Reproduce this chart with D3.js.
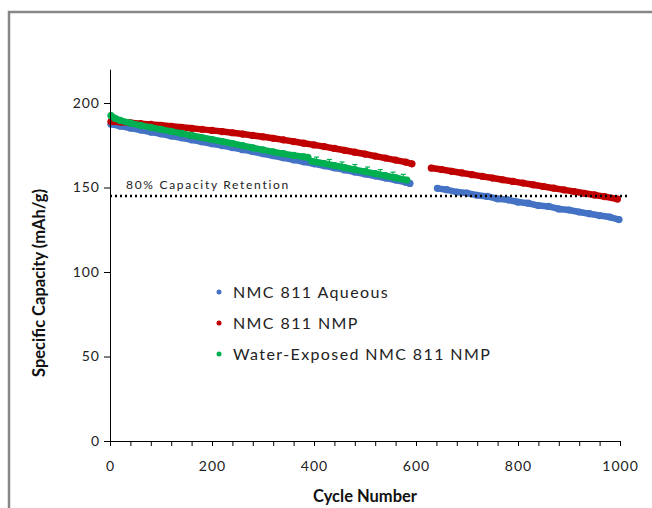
<!DOCTYPE html>
<html>
<head>
<meta charset="utf-8">
<script src="https://d3js.org/d3.v7.min.js"></script>
<style>
  body { margin: 0; background: #fff; }
  text { font-family: Lato, "Open Sans", sans-serif; }
</style>
</head>
<body>
<div id="chart"></div>
<script>
// series values (cycle, mAh/g)
var aqueous1 = [[2,187.5],[20,186.3],[40,185.1],[60,184],[80,182.8],[100,181.7],[120,180.5],[140,179.4],[160,178.2],[180,177.1],[200,175.9],[220,174.8],[240,173.6],[260,172.4],[280,171.2],[300,170],[320,168.8],[340,167.6],[360,166.4],[380,165.2],[400,164],[420,162.8],[440,161.6],[460,160.4],[480,159.2],[500,158],[520,156.8],[540,155.6],[560,154.4],[580,153.1],[588,152.4]];
var aqueous2 = [[642,149.5],[660,148.7],[680,147.3],[700,146.7],[720,145.4],[740,144.7],[760,143.3],[780,142.7],[800,141.4],[820,140.7],[840,139.3],[860,138.8],[880,137.3],[900,136.7],[920,135.5],[940,134.5],[960,133.4],[980,132.5],[998,131]];
var nmp1 = [[2,189],[20,188.8],[40,188.3],[60,187.8],[80,187.3],[100,186.8],[120,186.2],[140,185.6],[160,185],[180,184.4],[200,183.8],[220,183.1],[240,182.4],[260,181.6],[280,180.8],[300,180],[320,179.1],[340,178.2],[360,177.2],[380,176.2],[400,175.2],[420,174.2],[440,173.1],[460,172],[480,170.9],[500,169.8],[520,168.6],[540,167.4],[560,166.2],[580,165],[592,164]];
var nmp2 = [[630,161.5],[650,160.6],[670,159.6],[690,158.6],[710,157.6],[730,156.6],[750,155.6],[770,154.6],[790,153.6],[810,152.6],[830,151.6],[850,150.6],[870,149.6],[890,148.6],[910,147.6],[930,146.6],[950,145.6],[970,144.6],[995,143.2]];
var exposed1 = [[2,192.5],[10,190.9],[20,189.7],[40,188.1],[60,186.8],[80,185.6],[100,184.4],[120,183.2],[140,182],[160,180.8],[180,179.6],[200,178.4],[220,177.2],[240,176],[260,174.8],[280,173.5],[300,172.3],[320,171.1],[340,170],[360,169],[380,168.2],[388,167.8]];
var exposed2 = [[396,165.5],[420,164.2],[440,163],[460,161.8],[480,160.6],[500,159.4],[520,158.2],[540,157],[560,155.8],[582,154.4]];
var exposedErr = [[405,165],[430,163.6],[455,162.1],[480,160.6],[505,159.1],[530,157.6],[555,156.1],[575,154.8]];
var errSize = 3;
var retention = 145;
var yTicks = [0, 50, 100, 150, 200];
var xLabels = [0, 200, 400, 600, 800, 1000];
var seriesNames = ["NMC 811 Aqueous", "NMC 811 NMP", "Water-Exposed NMC 811 NMP"];
var seriesColors = ["#4472C4", "#C00000", "#00B050"];

var W = 652, H = 508;
var svg = d3.select("#chart").append("svg").attr("width", W).attr("height", H);

// outer frame
svg.append("rect").attr("x", 9).attr("y", 12).attr("width", 700).attr("height", 600)
  .attr("fill", "none").attr("stroke", "#878787").attr("stroke-width", 2.5);

var x = d3.scaleLinear().domain([0, 1000]).range([110, 620]);
var y = d3.scaleLinear().domain([0, 220]).range([441, 69.2]);

var line = d3.line().x(d => x(d[0])).y(d => y(d[1]));

// data bands
var segs = [[aqueous1, 0], [aqueous2, 0], [nmp1, 1], [nmp2, 1], [exposed1, 2], [exposed2, 2]];
segs.forEach(function(s) {
  var c = seriesColors[s[1]];
  svg.append("path").datum(s[0]).attr("d", line)
    .attr("fill", "none").attr("stroke", c).attr("stroke-width", 6.5)
    .attr("stroke-linecap", "round").attr("stroke-linejoin", "round");
  svg.selectAll(null).data(s[0]).enter().append("circle")
    .attr("cx", d => x(d[0])).attr("cy", d => y(d[1])).attr("r", 3.6).attr("fill", c);
});

// error bars on water-exposed
var eb = svg.append("g").attr("stroke", "#00B050").attr("stroke-width", 1.2);
eb.selectAll("line.v").data(exposedErr).enter().append("line")
  .attr("x1", d => x(d[0])).attr("x2", d => x(d[0]))
  .attr("y1", d => y(d[1])).attr("y2", d => y(d[1] + errSize));
eb.selectAll("line.c").data(exposedErr).enter().append("line")
  .attr("x1", d => x(d[0]) - 2.5).attr("x2", d => x(d[0]) + 2.5)
  .attr("y1", d => y(d[1] + errSize)).attr("y2", d => y(d[1] + errSize));

// 80% line
svg.append("line").attr("x1", x(0)).attr("x2", x(1015))
  .attr("y1", y(retention)).attr("y2", y(retention))
  .attr("stroke", "#000").attr("stroke-width", 2.5).attr("stroke-dasharray", "2,3");
svg.append("text").attr("x", 126).attr("y", y(retention) - 7)
  .attr("font-size", 12).attr("letter-spacing", 1.7).attr("fill", "#222")
  .text("80% Capacity Retention");

// axes
var yAxis = svg.append("g").attr("transform", "translate(" + x(0) + ",0)")
  .call(d3.axisLeft(y).tickValues(yTicks).tickSize(6).tickSizeOuter(0).tickPadding(4));
yAxis.selectAll("text").attr("font-size", 14).attr("letter-spacing", 1).attr("fill", "#222")
  .style("font-family", "Lato, sans-serif");

var xAxis = svg.append("g").attr("transform", "translate(0," + y(0) + ")")
  .call(d3.axisBottom(x).tickValues(d3.range(0, 1001, 40)).tickSize(5).tickSizeOuter(0).tickPadding(15)
    .tickFormat(d => xLabels.indexOf(d) >= 0 ? d : ""));
xAxis.selectAll("text").attr("font-size", 14).attr("letter-spacing", 1).attr("fill", "#222")
  .style("font-family", "Lato, sans-serif");
svg.selectAll(".domain, .tick line").attr("stroke", "#000");

// axis titles
svg.append("text").attr("x", 365).attr("y", 502).attr("text-anchor", "middle")
  .attr("font-size", 16.5).attr("font-weight", "bold").attr("fill", "#111").text("Cycle Number");
svg.append("text").attr("transform", "translate(45,283) rotate(-90)").attr("text-anchor", "middle")
  .attr("font-size", 16.5).attr("font-weight", "bold").attr("fill", "#111").text("Specific Capacity (mAh/g)");

// legend
var lg = svg.append("g");
seriesNames.forEach(function(n, i) {
  var yy = 292 + i * 31;
  lg.append("circle").attr("cx", 219).attr("cy", yy).attr("r", 2.5).attr("fill", seriesColors[i]);
  lg.append("text").attr("x", 233).attr("y", yy + 6).attr("font-size", 16)
    .attr("letter-spacing", 1.4).attr("fill", "#222").text(n);
});
</script>
</body>
</html>
